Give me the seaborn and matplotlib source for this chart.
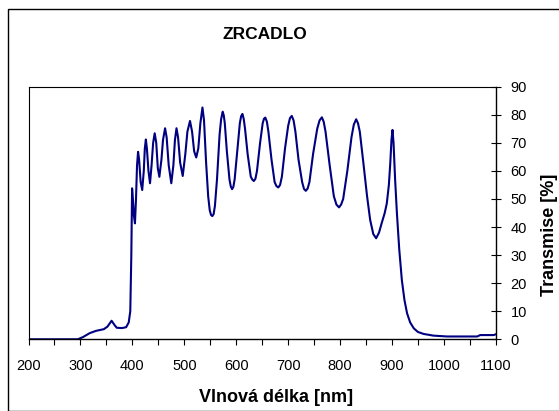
import pandas as pd
import matplotlib
matplotlib.use("Agg")
import matplotlib.pyplot as plt
from matplotlib.patches import Rectangle
import seaborn as sns

# values
wavelength = [
    200, 250, 295, 305, 318, 330, 345, 352, 360, 366, 370, 380, 388, 393, 396, 398,
    399.5, 401, 403, 405, 407, 409, 411, 413, 416, 419, 422, 424, 426, 428, 431, 434,
    437, 440, 443, 446, 449, 452, 456, 459, 463, 466, 470, 475, 479, 482, 485, 488,
    492, 497, 502, 506, 511, 515, 519, 523, 527, 531, 535, 538, 542, 546, 549, 551.5,
    554, 556.5, 559, 563, 568, 571, 574, 576, 578, 582, 587, 589.5, 592, 594.5, 597,
    602, 607, 609.5, 612, 614.5, 617, 622, 628, 631, 634, 637, 640, 646, 651, 653.5,
    656, 659, 662, 668, 674, 677.5, 681, 684.5, 688, 694, 700, 703.5, 707, 710.5, 714,
    720, 727, 730.5, 734, 737.5, 741, 748, 756, 760.5, 765, 768.5, 772, 780, 788, 793,
    798, 802, 806, 814, 822, 826.5, 831, 834.5, 838, 845, 852, 858, 864, 869.5, 875,
    880.5, 886, 890, 894, 896.7, 899, 901, 903, 906, 909.5, 914, 919, 924, 929, 935,
    942, 950, 961, 980, 1006, 1064, 1070, 1096, 1100,
]
transmission = [
    0, 0, 0, 0.8, 2.2, 3.0, 3.6, 4.5, 6.6, 5.0, 4.1, 4.0, 4.3, 6.0, 10, 30,
    53.8, 50, 44, 41.3, 50, 62, 66.8, 64, 56, 53.2, 60, 68, 71.2, 68, 60, 55.6,
    62, 70, 73.4, 70, 61, 57.9, 64, 71, 75.2, 72, 62, 55.6, 62, 71, 75.2, 72,
    63, 58.2, 66, 74, 77.8, 74, 67, 64.8, 68, 77, 82.6, 78, 63, 51, 46, 44.3,
    43.9, 44.6, 47.5, 57, 73, 78.5, 81.1, 79.8, 77, 67, 57, 54.5, 53.5, 54.3, 57,
    67, 77, 79.5, 80.3, 78.5, 75, 66, 58, 56.9, 56.4, 57.2, 60, 70, 77, 78.6,
    79, 77.6, 74, 64, 56, 54.6, 54.1, 55, 58, 68, 76, 78.8, 79.6, 78, 74,
    64, 56, 53.6, 52.9, 53.7, 56, 66, 75, 78, 79.1, 77.5, 74, 62, 51, 48,
    47, 48, 50, 60, 72, 76.5, 78.4, 77, 74, 62.7, 51, 42.5, 37.5, 36, 38,
    41.6, 45, 48.4, 55, 62.7, 71, 74.6, 70, 57, 44.9, 32, 21.1, 14, 9.3, 6,
    3.9, 2.6, 1.9, 1.3, 1.0, 1.0, 1.5, 1.5, 1.8,
]
x_ticks = list(range(200, 1101, 100))
y_ticks = list(range(0, 91, 10))


def main():
    sns.set_style("white")
    plt.rcParams['font.family'] = ['Liberation Sans', 'DejaVu Sans']
    for key in ["text.color", "axes.labelcolor", "xtick.color", "ytick.color"]:
        plt.rcParams[key] = "black"

    df = pd.DataFrame({"wavelength": wavelength, "transmission": transmission})

    fig = plt.figure(figsize=(5.59, 4.11), dpi=100)
    ax = fig.add_axes([0.051, 0.1745, 0.836, 0.6145])

    sns.lineplot(data=df, x="wavelength", y="transmission", color="#000080",
                 linewidth=1.5, ax=ax)

    ax.set_xlim(200, 1100)
    ax.set_ylim(0, 90)
    ax.set_xticks(x_ticks)
    ax.set_xticks(list(range(250, 1100, 100)), minor=True)
    ax.set_yticks(y_ticks)

    ax.yaxis.tick_right()
    ax.yaxis.set_label_position("right")
    ax.tick_params(axis="x", which="both", direction="out", length=4, width=0.8,
                   color="black", labelsize=10.5, pad=10, bottom=True)
    ax.tick_params(axis="y", direction="inout", length=7, width=0.8,
                   color="black", labelsize=10.5, pad=7, right=True, left=False)

    for side in ["left", "right", "top", "bottom"]:
        ax.spines[side].set_visible(True)
        ax.spines[side].set_color("black")
        ax.spines[side].set_linewidth(0.8)
    ax.spines["right"].set_linewidth(1.0)
    ax.spines["bottom"].set_linewidth(1.0)

    ax.set_xlabel("Vlnová délka [nm]", fontsize=13, fontweight="bold", va="center")
    ax.xaxis.set_label_coords(0.529, -0.232)
    ax.set_ylabel("Transmise [%]", fontsize=13, fontweight="bold",
                  rotation=90, va="center", ha="center")
    ax.yaxis.set_label_coords(1.114, 0.413)

    fig.text(0.474, 0.915, "ZRCADLO", fontsize=12.5, fontweight="bold",
             ha="center", va="center")

    # outer chart frame (only top and left edges fall inside the image)
    fig.patches.append(Rectangle((7.5 / 559, 0.0), 1.2, 1 - 9.5 / 411,
                                 transform=fig.transFigure, fill=False,
                                 edgecolor="black", linewidth=1.0))

    fig.savefig("out.png", dpi=100)
    plt.close(fig)


if __name__ == "__main__":
    main()
